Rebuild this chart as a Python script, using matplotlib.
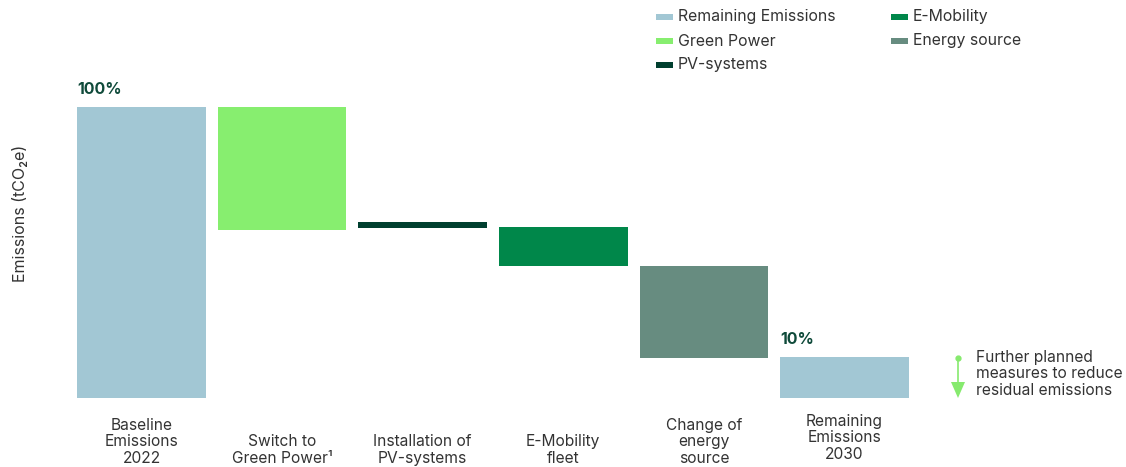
import matplotlib
matplotlib.use("Agg")
import matplotlib.pyplot as plt
from matplotlib.patches import Rectangle, Polygon

plt.rcParams['font.family'] = ['Inter', 'DejaVu Sans']

categories = ["Baseline\nEmissions\n2022", "Switch to\nGreen Power\u00b9", "Installation of\nPV-systems",
              "E-Mobility\nfleet", "Change of\nenergy\nsource", "Remaining\nEmissions\n2030"]
bar_bottoms = [0, 57.7, 58.4, 45.4, 13.7, 0]
bar_tops = [100, 100, 60.5, 58.8, 45.4, 14.0]
series = ["Remaining Emissions", "Green Power", "PV-systems", "E-Mobility", "Energy source", "Remaining Emissions"]
colors = {"Remaining Emissions": "#a2c7d4", "Green Power": "#87ee6f", "PV-systems": "#003f2f",
          "E-Mobility": "#00874a", "Energy source": "#678c80"}
value_labels = {0: "100%", 5: "10%"}
legend_order = ["Remaining Emissions", "Green Power", "PV-systems", "E-Mobility", "Energy source"]

W, H = 1126, 467
fig = plt.figure(figsize=(W / 100, H / 100), dpi=100)
ax = fig.add_axes([0, 0, 1, 1])
sp = 140.6
x0 = 141.5
yscale = 2.91
ybase = 398
ax.set_xlim((0 - x0) / sp, (W - x0) / sp)
ax.set_ylim(-(H - ybase) / yscale, ybase / yscale)
ax.axis('off')

def px(xp, yp):
    return (xp - x0) / sp, (ybase - yp) / yscale

xs = list(range(len(categories)))
heights = [t - b for t, b in zip(bar_tops, bar_bottoms)]
ax.bar(xs, heights, bottom=bar_bottoms, width=0.915,
       color=[colors[s] for s in series], linewidth=0)

txtc = "#333333"
for i, c in enumerate(categories):
    yb = 466 if i != 5 else 462
    ax.text(i, px(0, yb)[1], c, ha='center', va='bottom', fontsize=11.2, color=txtc, linespacing=1.13)

for i, lab in value_labels.items():
    ax.text(i - 0.915 / 2, bar_tops[i] + 3.5, lab, ha='left', va='bottom', fontsize=11.5,
            fontweight='bold', color="#0f4a3a")

ax.text(*px(20, 213), "Emissions (tCO\u2082e)", rotation=90, ha='center', va='center',
        fontsize=11.5, color=txtc)

# legend
leg_pos = [(656, 17), (656, 41), (656, 65), (891, 17), (891, 41)]
for name, (lx, ly) in zip(legend_order, leg_pos):
    xa, ya = px(lx, ly + 3)
    xb, yb = px(lx + 17, ly - 3)
    ax.add_patch(Rectangle((xa, ya), xb - xa, yb - ya, color=colors[name], lw=0))
    ax.text(*px(lx + 22, ly), name, ha='left', va='center', fontsize=11.4, color=txtc)

# arrow annotation
ac = "#86ea6e"
ax.plot(*px(958, 358), marker='o', markersize=3.5, color=ac)
xl, yl1 = px(958, 358)
_, yl2 = px(958, 384)
ax.plot([xl, xl], [yl1, yl2], color=ac, lw=1.2)
ax.add_patch(Polygon([px(951, 382), px(965, 382), px(958, 398)], closed=True, color=ac, lw=0))
ax.text(*px(976, 374), "Further planned\nmeasures to reduce\nresidual emissions", ha='left', va='center',
        fontsize=11.2, color=txtc, linespacing=1.13)

fig.savefig("out.png", dpi=100)
